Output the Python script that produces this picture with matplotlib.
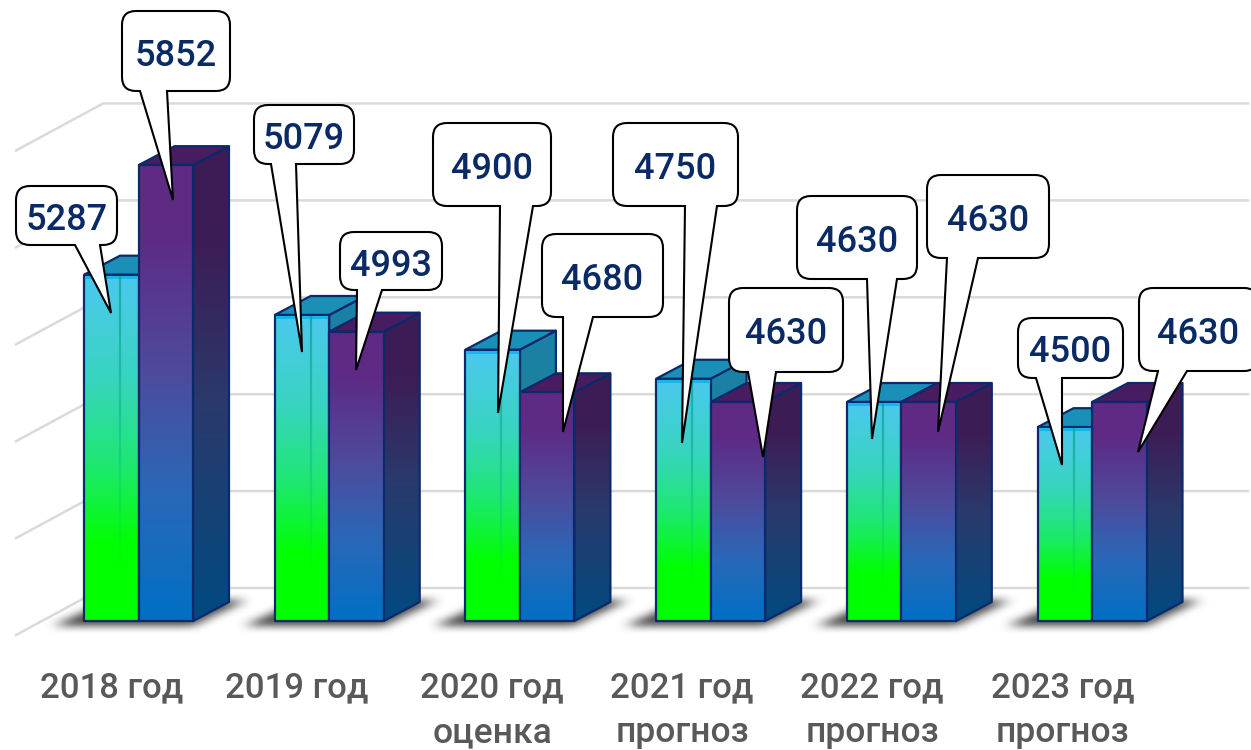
#!/usr/bin/env python3
# -*- coding: utf-8 -*-
import numpy as np
import matplotlib
matplotlib.use("Agg")
import matplotlib.pyplot as plt
from matplotlib.colors import LinearSegmentedColormap
from matplotlib.patches import Polygon, PathPatch
from matplotlib.path import Path

plt.rcParams['font.family'] = ['Roboto', 'DejaVu Sans']

# data
years = ["2018 год", "2019 год", "2020 год", "2021 год", "2022 год", "2023 год"]
notes = ["", "", "оценка", "прогноз", "прогноз", "прогноз"]
series_a = [5287, 5079, 4900, 4750, 4630, 4500]
series_b = [5852, 4993, 4680, 4630, 4630, 4630]
grid_values = [3500, 4000, 4500, 5000, 5500, 6000]

# layout, pixels of the 1251x750 picture
W, H = 1251, 750
X0, GROUP_W = 84.0, 190.7
BASE_PX, PX_PER_VAL = 621.0, 0.1938
BASE_VAL = 3500
BAR_W = 54.5 / GROUP_W
DX = 36.0 / GROUP_W
DY = 19.0 / PX_PER_VAL
GRID_SHIFT = 33.0 / PX_PER_VAL

label_x = [112, 297, 492, 682, 872, 1063]
# box left, right, top, bottom, tail base left, right, tip x, y
callouts_a = [(16, 117, 186, 245, 75, 100, 111, 313),
              (254, 354, 105, 164, 271, 296, 302, 352),
              (433, 551, 123, 206, 500, 533, 498, 413),
              (613, 738, 123, 206, 685, 717, 682, 443),
              (797, 917, 196, 279, 867, 897, 872, 439),
              (1018, 1123, 318, 378, 1036, 1062, 1062, 465)]
callouts_b = [(122, 230, 11, 91, 140, 167, 173, 200),
              (340, 442, 232, 290, 357, 382, 356, 370),
              (542, 663, 234, 317, 563, 593, 563, 432),
              (729, 843, 288, 372, 748, 776, 763, 457),
              (927, 1049, 175, 258, 947, 978, 938, 432),
              (1139, 1258, 288, 371, 1158, 1187, 1138, 452)]

NAVY = "#0b2a6b"
TEXT_BLUE = "#0a2a66"
GRID = "#dadada"

cm_green = LinearSegmentedColormap.from_list("g", [(0, "#4cc8f0"), (0.3, "#38d4c0"),
                                                   (0.55, "#1ee870"), (0.78, "#00ff00"), (1, "#00ff00")])
cm_purple = LinearSegmentedColormap.from_list("p", [(0, "#5e2a84"), (0.15, "#5e2a84"), (0.45, "#4e4a9c"),
                                                    (0.72, "#2a68b8"), (1, "#0070c4")])
cm_purple_side = LinearSegmentedColormap.from_list("ps", [(0, "#3d1c55"), (0.2, "#3d1c55"), (0.55, "#2a3a6c"),
                                                          (1, "#004a80")])
cm_green_side = LinearSegmentedColormap.from_list("gs", [(0, "#1c80a8"), (1, "#1a8a78")])


def grad_face(ax, verts, cmap, z):
    verts = np.array(verts)
    g = np.linspace(0, 1, 256).reshape(-1, 1)
    im = ax.imshow(g, cmap=cmap, vmin=0, vmax=1, aspect='auto', zorder=z,
                   extent=(verts[:, 0].min(), verts[:, 0].max(), verts[:, 1].min(), verts[:, 1].max()))
    clip = Polygon(verts, closed=True, transform=ax.transData)
    im.set_clip_path(clip)
    ax.add_patch(Polygon(verts, closed=True, fill=False, ec=NAVY, lw=1.6, zorder=z + 0.1, joinstyle='round'))


def bar3d(ax, x, val, front, side, top, z, inner=False):
    r = x + BAR_W
    grad_face(ax, [(r, BASE_VAL), (r + DX, BASE_VAL + DY), (r + DX, val + DY), (r, val)], side, z)
    ax.add_patch(Polygon([(x, val), (r, val), (r + DX, val + DY), (x + DX, val + DY)], closed=True,
                         fc=top, ec=NAVY, lw=1.6, zorder=z + 0.2))
    grad_face(ax, [(x, BASE_VAL), (r, BASE_VAL), (r, val), (x, val)], front, z + 0.3)
    if inner:
        # glassy top band and the back edge seen through the front face
        ax.fill_between([x + 0.006, r - 0.006], val - 20, val - 5, color="#18b4ee", lw=0, zorder=z + 0.5)
        vals = np.linspace(val - 5, BASE_VAL + 0.15 * (val - BASE_VAL), 30)
        for k in range(len(vals) - 1):
            ax.plot([x + DX, x + DX], [vals[k], vals[k + 1]], color="#0aa890", lw=1.6,
                    alpha=0.8 * (1 - k / 29), solid_capstyle='butt', zorder=z + 0.5)


def shadow(ax, i):
    # blurred floor shadow, built on a pixel raster
    left = X0 + i * GROUP_W
    x = np.arange(left - 60, left + 200)
    y = np.arange(585, 645)
    xx, yy = np.meshgrid(x, y)
    p = Path([(left - 30, 625), (left + 109, 625), (left + 163, 599), (left + 26, 599)])
    mask = p.contains_points(np.c_[xx.ravel(), yy.ravel()]).reshape(xx.shape).astype(float)
    k = np.ones(9) / 9
    for _ in range(2):
        mask = np.apply_along_axis(lambda m: np.convolve(m, k, mode='same'), 0, mask)
    k = np.ones(15) / 15
    for _ in range(2):
        mask = np.apply_along_axis(lambda m: np.convolve(m, k, mode='same'), 1, mask)
    rgba = np.zeros(mask.shape + (4,))
    rgba[..., :3] = 0.25
    rgba[..., 3] = np.clip(mask * 0.95, 0, 0.85)
    ext = ((x[0] - X0) / GROUP_W, (x[-1] + 1 - X0) / GROUP_W,
           BASE_VAL + (BASE_PX - y[-1] - 1) / PX_PER_VAL, BASE_VAL + (BASE_PX - y[0]) / PX_PER_VAL)
    ax.imshow(rgba, aspect='auto', extent=ext, zorder=2, interpolation='bilinear')


def callout(ax, c, text):
    l, r, t, b, b1, b2, tx, ty = c
    q = 14
    verts = [(l + q, t), (r - q, t), (r, t), (r, t + q), (r, b - q), (r, b), (r - q, b),
             (b2, b), (tx, ty), (b1, b), (l + q, b), (l, b), (l, b - q), (l, t + q), (l, t), (l + q, t)]
    codes = [Path.MOVETO, Path.LINETO, Path.CURVE3, Path.CURVE3, Path.LINETO, Path.CURVE3, Path.CURVE3,
             Path.LINETO, Path.LINETO, Path.LINETO, Path.LINETO, Path.CURVE3, Path.CURVE3, Path.LINETO,
             Path.CURVE3, Path.CURVE3]
    ax.add_patch(PathPatch(Path(verts, codes), fc="white", ec="black", lw=1.5, zorder=10, joinstyle='miter'))
    cx = min((l + r) / 2, 1198)
    ax.text(cx, (t + b) / 2 + 5, text, ha='center', va='center', fontsize=26, fontweight='medium',
            color=TEXT_BLUE, zorder=11)


fig = plt.figure(figsize=(W / 100, H / 100), dpi=100)
ax = fig.add_axes([0, 0, 1, 1])
ax.set_xlim(-X0 / GROUP_W, (W - X0) / GROUP_W)
ax.set_ylim(BASE_VAL - (H - BASE_PX) / PX_PER_VAL, BASE_VAL + BASE_PX / PX_PER_VAL)
ax.set_autoscale_on(False)
ax.axis('off')

# walls of the chart
wall_dx = 87.0 / GROUP_W
wall_dy = 47.0 / PX_PER_VAL
x_back = (103 - X0) / GROUP_W
x_end = (1248 - X0) / GROUP_W
for v in grid_values:
    y = v + GRID_SHIFT
    ax.plot([x_back - wall_dx, x_back, x_end], [y - wall_dy, y, y], color=GRID, lw=1.8,
            solid_joinstyle='miter', zorder=1)

for i in range(len(years)):
    shadow(ax, i)
    z = 3 + i
    bar3d(ax, i, series_a[i], cm_green, cm_green_side, "#1a90b8", z, inner=True)
    bar3d(ax, i + BAR_W, series_b[i], cm_purple, cm_purple_side, "#471c60", z + 0.01 + 0.5 + 0.2)

# callouts and labels are placed in picture pixels
ax2 = fig.add_axes([0, 0, 1, 1])
ax2.set_xlim(0, W)
ax2.set_ylim(H, 0)
ax2.axis('off')
ax2.patch.set_alpha(0)

for c, v in zip(callouts_a, series_a):
    callout(ax2, c, str(v))
for c, v in zip(callouts_b, series_b):
    callout(ax2, c, str(v))

for x, lab, note in zip(label_x, years, notes):
    ax2.text(x, 697, lab, ha='center', va='baseline', fontsize=25, color="#595959", fontweight='medium')
    if note:
        ax2.text(x, 742, note, ha='center', va='baseline', fontsize=25.5, color="#595959", fontweight='medium')

fig.savefig("out.png", dpi=100)
